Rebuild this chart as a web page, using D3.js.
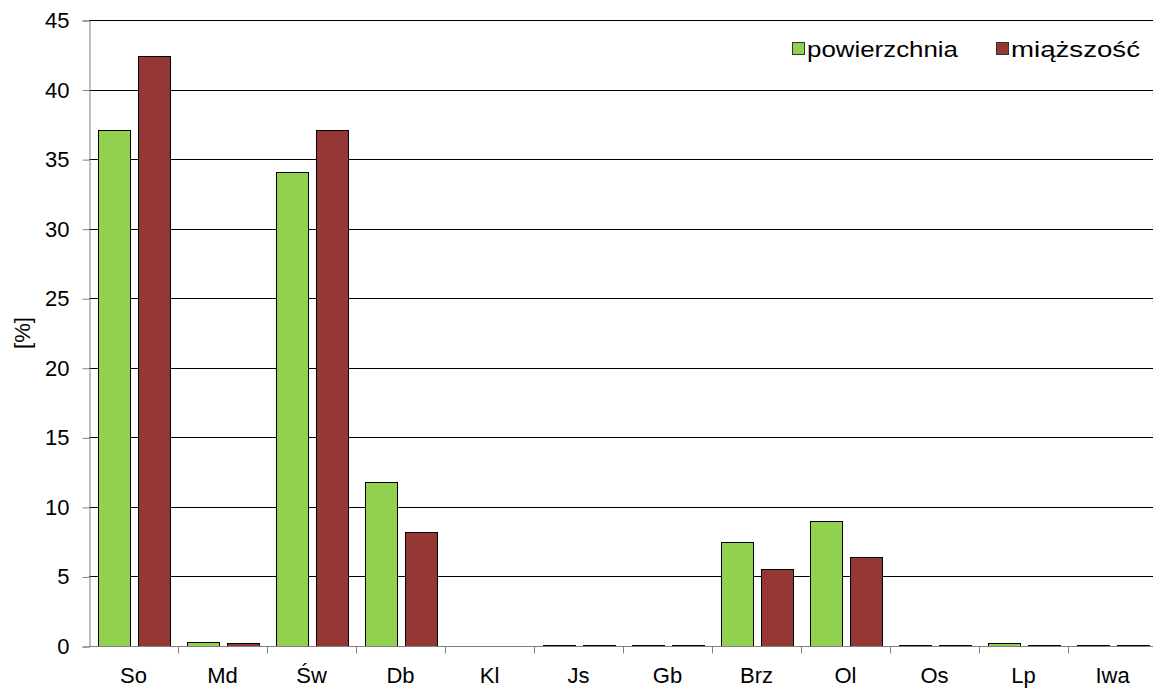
<!DOCTYPE html>
<html>
<head>
<meta charset="utf-8">
<script src="https://cdn.jsdelivr.net/npm/d3@7"></script>
<style>
  body { margin: 0; background: #fff; }
  svg { display: block; font-family: "Liberation Sans", Arial, sans-serif; }
</style>
</head>
<body>
<div id="chart"></div>
<script>
var categories = ['So', 'Md', 'Św', 'Db', 'Kl', 'Js', 'Gb', 'Brz', 'Ol', 'Os', 'Lp', 'Iwa'];
var powierzchnia = [37.1, 0.3, 34.1, 11.8, 0, 0.05, 0.05, 7.45, 9.0, 0.05, 0.2, 0.05];
var miazszosc = [42.4, 0.2, 37.1, 8.2, 0, 0.05, 0.05, 5.5, 6.4, 0.04, 0.1, 0.05];
var yTicks = [0, 5, 10, 15, 20, 25, 30, 35, 40, 45];
var seriesNames = ['powierzchnia', 'miąższość'];
var colors = ['#92D050', '#953735'];

(function() {
var width = 1153, height = 689;
var mLeft = 89, mRight = 1157, mTop = 20, mBottom = 646;

var svg = d3.select('#chart').append('svg')
    .attr('width', width).attr('height', height);

var x = d3.scaleBand().domain(categories).range([mLeft, mRight]);
var y = d3.scaleLinear().domain([0, 45]).range([mBottom, mTop]);

// gridlines
svg.append('g').selectAll('line')
    .data(yTicks.filter(function(d) { return d > 0; }))
  .enter().append('line')
    .attr('x1', mLeft).attr('x2', mRight)
    .attr('y1', function(d) { return Math.round(y(d)) + 0.5; })
    .attr('y2', function(d) { return Math.round(y(d)) + 0.5; })
    .attr('stroke', '#000').attr('stroke-width', 1);

// bars
var series = [powierzchnia, miazszosc];
var bw = x.bandwidth() * 32 / 89;
var offs = [x.bandwidth() * 9 / 89, x.bandwidth() * 49 / 89];
series.forEach(function(vals, s) {
  svg.append('g').selectAll('rect')
      .data(vals)
    .enter().append('rect')
      .attr('x', function(d, i) { return Math.round(x(categories[i]) + offs[s]) + 0.5; })
      .attr('y', function(d) { return Math.round(y(d)) + 0.5; })
      .attr('width', Math.round(bw))
      .attr('height', function(d) { return Math.max(0, mBottom - Math.round(y(d))); })
      .attr('fill', colors[s])
      .attr('stroke', '#000').attr('stroke-width', 1);
});

// y axis
var yAxis = d3.axisLeft(y).tickValues(yTicks).tickSize(7).tickPadding(13);
var gy = svg.append('g').attr('transform', 'translate(' + (mLeft + 0.5) + ',0.5)').call(yAxis);
gy.select('.domain').attr('stroke', '#808080');
gy.selectAll('.tick line').attr('stroke', '#808080');
gy.selectAll('text').attr('font-size', 22).attr('fill', '#000')
    .attr('font-family', '"Liberation Sans", Arial, sans-serif');

// x axis
var gx = svg.append('g').attr('transform', 'translate(0,' + (mBottom + 0.5) + ')');
gx.append('line').attr('x1', mLeft).attr('x2', mRight)
    .attr('stroke', '#808080');
gx.selectAll('line.tk').data(categories.slice(1)).enter().append('line')
    .attr('class', 'tk')
    .attr('x1', function(d) { return Math.round(x(d)) + 0.5; })
    .attr('x2', function(d) { return Math.round(x(d)) + 0.5; })
    .attr('y1', 0).attr('y2', 7).attr('stroke', '#808080');
gx.selectAll('text').data(categories).enter().append('text')
    .attr('x', function(d) { return x(d) + x.bandwidth() / 2; })
    .attr('y', 36)
    .attr('text-anchor', 'middle')
    .attr('font-size', 22)
    .text(function(d) { return d; });

// y label
svg.append('text')
    .attr('transform', 'translate(30,' + ((mTop + mBottom) / 2) + ') rotate(-90)')
    .attr('text-anchor', 'middle')
    .attr('font-size', 22)
    .text('[%]');

// legend
var legX = [792, 996];
var legW = [151, 129];
seriesNames.forEach(function(n, i) {
  svg.append('rect')
      .attr('x', legX[i] + 0.5).attr('y', 42.5)
      .attr('width', 12).attr('height', 12)
      .attr('fill', colors[i]).attr('stroke', '#333');
  svg.append('text')
      .attr('x', legX[i] + 15).attr('y', 57)
      .attr('font-size', 22)
      .attr('textLength', legW[i])
      .attr('lengthAdjust', 'spacingAndGlyphs')
      .text(n);
});
})();
</script>
</body>
</html>
